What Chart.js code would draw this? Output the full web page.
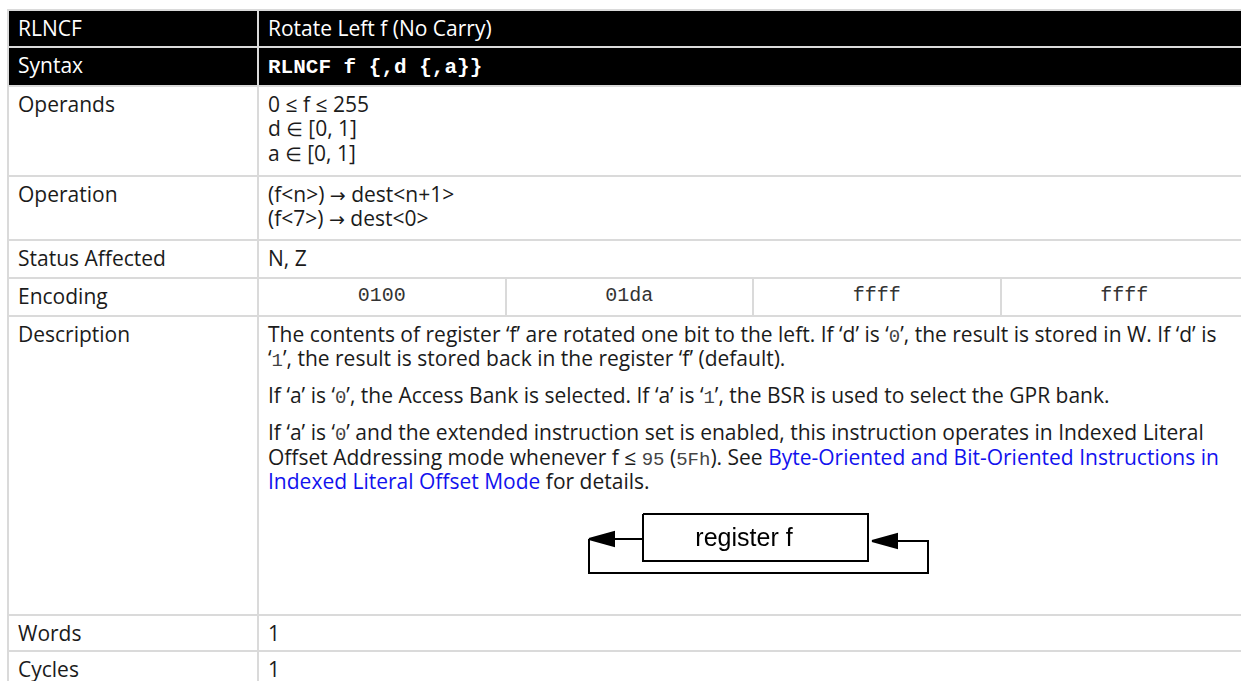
<!DOCTYPE html>
<html>
<head>
<meta charset="utf-8">
<script src="https://cdn.jsdelivr.net/npm/chart.js@4.4.1/dist/chart.umd.min.js"></script>
<style>
  html, body { margin: 0; padding: 0; background: #fff; overflow: hidden; }
  body { width: 1241px; height: 681px; }
  table {
    position: absolute; left: 7px; top: 9px;
    width: 1242px; table-layout: fixed; border-collapse: collapse;
    font-family: "Open Sans", "Noto Sans", sans-serif; font-size: 21px; line-height: 24.5px;
    color: #1b1b1b;
  }
  td { border: 2px solid #dadada; padding: 5px 9px 5px 9px; vertical-align: top; overflow: hidden; }
  tr.dark td { background: #000; color: #fff; }
  p { margin: 0; }
  p + p { margin-top: 12.5px; }
  .mono { font-family: "Liberation Mono", monospace; font-size: 19px; color: #444; line-height: 18px; }
  .syn { font-family: "Liberation Mono", monospace; font-weight: bold; font-size: 21px; line-height: 18px; }
  .sym { font-family: "DejaVu Sans", sans-serif; font-size: 19px; line-height: 18px; }
  .enc { text-align: center; font-family: "Liberation Mono", monospace; font-size: 20px; color: #333; }
  a { color: #1212ee; text-decoration: none; }
  .diagram { position: relative; width: 400px; height: 90px; margin: 6px auto 0 auto; }
  .diagram canvas { position: absolute; left: 0; top: 0; }
  .reglabel { position: absolute; font-family: "Liberation Sans", Arial, sans-serif; font-size: 25px; color: #000;
              transform: translate(-50%, -50%); white-space: nowrap; line-height: 1; }
</style>
</head>
<body>
<table id="tbl">
  <colgroup><col style="width:250px"><col><col><col><col></colgroup>
  <tbody id="body"></tbody>
</table>
<script>
// table text
const mnemonic = 'RLNCF';
const title = 'Rotate Left f (No Carry)';
const syntax = 'RLNCF f {,d {,a}}';
const operands = ['0 \u2264 f \u2264 255', 'd \u2208 [0, 1]', 'a \u2208 [0, 1]'];
const operation = ['(f<n>) \u2192 dest<n+1>', '(f<7>) \u2192 dest<0>'];
const statusAffected = ['N, Z'];
const encoding = ['0100', '01da', 'ffff', 'ffff'];
const description = [
  'The contents of register \u2018f\u2019 are rotated one bit to the left. If \u2018d\u2019 is \u2018<span class="mono">0</span>\u2019, the result is stored in W. If \u2018d\u2019 is \u2018<span class="mono">1</span>\u2019, the result is stored back in the register \u2018f\u2019 (default).',
  'If \u2018a\u2019 is \u2018<span class="mono">0</span>\u2019, the Access Bank is selected. If \u2018a\u2019 is \u2018<span class="mono">1</span>\u2019, the BSR is used to select the GPR bank.',
  'If \u2018a\u2019 is \u2018<span class="mono">0</span>\u2019 and the extended instruction set is enabled, this instruction operates in Indexed Literal Offset Addressing mode whenever f \u2264 <span class="mono">95</span> (<span class="mono">5Fh</span>). See <a href="#">Byte-Oriented and Bit-Oriented Instructions in Indexed Literal Offset Mode</a> for details.'
];
const words = ['1'];
const cycles = ['1'];

// rotate diagram (diagram units, y grows downward)
const regBox = [{x: 90, y: 14}, {x: 315, y: 14}, {x: 315, y: 61}, {x: 90, y: 61}, {x: 90, y: 14}];
const outLine = [{x: 90, y: 39}, {x: 60, y: 39}];
const loopLine = [{x: 36, y: 39}, {x: 36, y: 73}, {x: 375, y: 73}, {x: 375, y: 41}, {x: 344, y: 41}];
const leftHead = [{x: 36, y: 39}, {x: 61, y: 32}, {x: 61, y: 46}, {x: 36, y: 39}];
const rightHead = [{x: 319, y: 41}, {x: 344, y: 34}, {x: 344, y: 48}, {x: 319, y: 41}];
const regLabel = {x: 191, y: 37, text: 'register f'};

const esc = s => s.replace(/&/g, '&amp;').replace(/</g, '&lt;').replace(/>/g, '&gt;')
  .replace(/[\u2192\u2208]/g, c => '<span class="sym">' + c + '</span>');
const lines = arr => arr.map(esc).join('<br>');

const rowHeights = [36, 39, 90, 64, 38, 38, 299, 36, 36];
const rows = [
  ['dark', mnemonic, esc(title)],
  ['dark', 'Syntax', '<span class="syn">' + esc(syntax) + '</span>'],
  ['', 'Operands', lines(operands)],
  ['', 'Operation', lines(operation)],
  ['', 'Status Affected', lines(statusAffected)],
  ['enc', 'Encoding', null],
  ['', 'Description', description.map(p => '<p>' + p + '</p>').join('') +
      '<div class="diagram"><canvas id="rot" width="400" height="90"></canvas><span class="reglabel" id="reglabel"></span></div>'],
  ['', 'Words', lines(words)],
  ['', 'Cycles', lines(cycles)]
];

const tbody = document.getElementById('body');
rows.forEach((r, i) => {
  const tr = document.createElement('tr');
  if (r[0] === 'dark') tr.className = 'dark';
  tr.style.height = rowHeights[i] + 'px';
  let html = '<td>' + r[1] + '</td>';
  if (r[0] === 'enc') {
    html += encoding.map(e => '<td class="enc">' + e + '</td>').join('');
  } else {
    html += '<td colspan="4">' + r[2] + '</td>';
  }
  tr.innerHTML = html;
  tbody.appendChild(tr);
});

const labelPlugin = {
  id: 'regLabel',
  afterRender(chart) {
    const el = document.getElementById('reglabel');
    el.textContent = regLabel.text;
    el.style.left = chart.scales.x.getPixelForValue(regLabel.x) + 'px';
    el.style.top = chart.scales.y.getPixelForValue(regLabel.y) + 'px';
  }
};

const lineSet = (pts, fill) => ({
  data: pts, showLine: true, borderColor: '#000', borderWidth: 2, pointRadius: 0,
  tension: 0, clip: false, fill: fill ? 'shape' : false, backgroundColor: '#000'
});

new Chart(document.getElementById('rot'), {
  type: 'scatter',
  data: {
    datasets: [
      lineSet(regBox, false),
      lineSet(outLine, false),
      lineSet(loopLine, false),
      lineSet(leftHead, true),
      lineSet(rightHead, true)
    ]
  },
  options: {
    responsive: false, animation: false, devicePixelRatio: 1,
    layout: { padding: 0 },
    plugins: { legend: { display: false }, tooltip: { enabled: false } },
    events: [],
    scales: {
      x: { type: 'linear', min: 0, max: 400, display: false },
      y: { type: 'linear', min: 0, max: 90, reverse: true, display: false }
    }
  },
  plugins: [labelPlugin]
});
</script>
</body>
</html>
